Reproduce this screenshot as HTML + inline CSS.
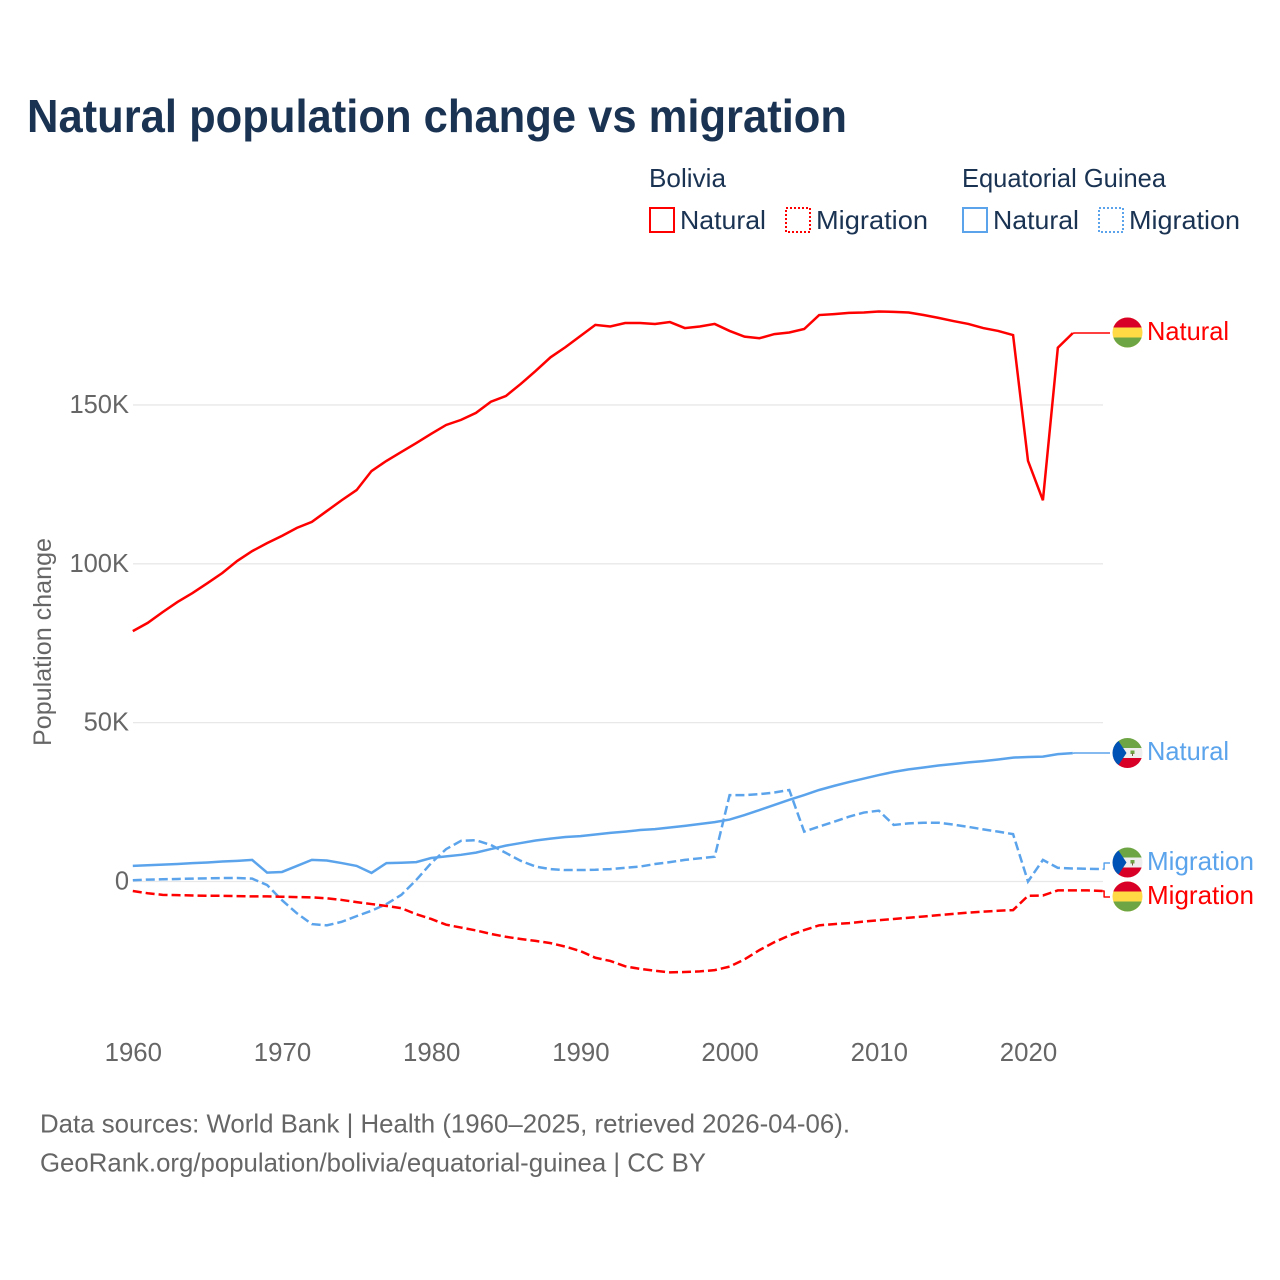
<!DOCTYPE html>
<html lang="en">
<head>
<meta charset="utf-8">
<title>Natural population change vs migration</title>
<style>
html,body{margin:0;padding:0;background:#fff;width:1280px;height:1280px;overflow:hidden}
svg{display:block}
text{font-family:"Liberation Sans",sans-serif}
</style>
</head>
<body>
<svg id="chart" xmlns="http://www.w3.org/2000/svg" width="1280" height="1280" viewBox="0 0 1280 1280">
  <defs>
    <clipPath id="flag-clip"><circle cx="0" cy="0" r="15"/></clipPath>
  </defs>
  <text x="27" y="132" font-size="46" font-weight="700" fill="#1a3353" textLength="820" lengthAdjust="spacingAndGlyphs">Natural population change vs migration</text>

  <g font-size="26" fill="#1a3353">
    <text x="649" y="187" textLength="77" lengthAdjust="spacingAndGlyphs">Bolivia</text>
    <text x="962" y="187" textLength="204" lengthAdjust="spacingAndGlyphs">Equatorial Guinea</text>
    <rect x="650" y="208" width="24" height="24" fill="none" stroke="#ff0000" stroke-width="2"/>
    <text x="680" y="229" textLength="86" lengthAdjust="spacingAndGlyphs">Natural</text>
    <rect x="786" y="208" width="24" height="24" fill="none" stroke="#ff0000" stroke-width="2" stroke-dasharray="2 2"/>
    <text x="816" y="229" textLength="112" lengthAdjust="spacingAndGlyphs">Migration</text>
    <rect x="963" y="208" width="24" height="24" fill="none" stroke="#5ba4ec" stroke-width="2"/>
    <text x="993" y="229" textLength="86" lengthAdjust="spacingAndGlyphs">Natural</text>
    <rect x="1099" y="208" width="24" height="24" fill="none" stroke="#5ba4ec" stroke-width="2" stroke-dasharray="2 2"/>
    <text x="1129" y="229" textLength="111" lengthAdjust="spacingAndGlyphs">Migration</text>
  </g>

  <text transform="translate(51,642) rotate(-90)" text-anchor="middle" font-size="25" fill="#666666" textLength="208" lengthAdjust="spacingAndGlyphs">Population change</text>

  <g id="grid"></g>
  <g id="y-ticks"></g>
  <g id="x-ticks"></g>
  <g id="series"></g>

  <g transform="translate(1127.500,332.500)">
    <g clip-path="url(#flag-clip)">
      <rect x="-15" y="-15" width="30" height="30" fill="#ffda44"/>
      <rect x="-15" y="-15" width="30" height="10" fill="#d80027"/>
      <rect x="-15" y="5" width="30" height="10" fill="#6da544"/>
    </g>
  </g>
  <g transform="translate(1127.500,896.500)">
    <g clip-path="url(#flag-clip)">
      <rect x="-15" y="-15" width="30" height="30" fill="#ffda44"/>
      <rect x="-15" y="-15" width="30" height="10" fill="#d80027"/>
      <rect x="-15" y="5" width="30" height="10" fill="#6da544"/>
    </g>
  </g>
  <g transform="translate(1127.500,753)">
    <g clip-path="url(#flag-clip)">
      <rect x="-15" y="-15" width="30" height="30" fill="#eeeeee"/>
      <rect x="-15" y="-15" width="30" height="10" fill="#6da544"/>
      <rect x="-15" y="5" width="30" height="10" fill="#d80027"/>
      <polygon points="-15,-15 -11,-15 -1,0 -11,15 -15,15" fill="#0052b4"/>
      <rect x="3" y="-2.500" width="4" height="3.500" fill="#6da544"/>
      <rect x="4.500" y="0" width="1" height="3" fill="#786145"/>
    </g>
  </g>
  <g transform="translate(1127.500,862.500)">
    <g clip-path="url(#flag-clip)">
      <rect x="-15" y="-15" width="30" height="30" fill="#eeeeee"/>
      <rect x="-15" y="-15" width="30" height="10" fill="#6da544"/>
      <rect x="-15" y="5" width="30" height="10" fill="#d80027"/>
      <polygon points="-15,-15 -11,-15 -1,0 -11,15 -15,15" fill="#0052b4"/>
      <rect x="3" y="-2.500" width="4" height="3.500" fill="#6da544"/>
      <rect x="4.500" y="0" width="1" height="3" fill="#786145"/>
    </g>
  </g>

  <g font-size="26">
    <text x="1147" y="340" fill="#ff0000" textLength="82" lengthAdjust="spacingAndGlyphs">Natural</text>
    <text x="1147" y="760" fill="#5ba4ec" textLength="82" lengthAdjust="spacingAndGlyphs">Natural</text>
    <text x="1147" y="870" fill="#5ba4ec" textLength="107" lengthAdjust="spacingAndGlyphs">Migration</text>
    <text x="1147" y="904" fill="#ff0000" textLength="107" lengthAdjust="spacingAndGlyphs">Migration</text>
  </g>

  <g font-size="26" fill="#666666">
    <text x="40" y="1132.500" textLength="810" lengthAdjust="spacingAndGlyphs">Data sources: World Bank | Health (1960–2025, retrieved 2026-04-06).</text>
    <text x="40" y="1171.500" textLength="666" lengthAdjust="spacingAndGlyphs">GeoRank.org/population/bolivia/equatorial-guinea | CC BY</text>
  </g>
</svg>
<script>
// Chart data: values in thousands of people, one entry per year from firstYear.
var firstYear = 1960;
var yTickValues = [0, 50, 100, 150];
var yTickLabels = ['0', '50K', '100K', '150K'];
var xTickValues = [1960, 1970, 1980, 1990, 2000, 2010, 2020];
var xTickLabels = ['1960', '1970', '1980', '1990', '2000', '2010', '2020'];

var boliviaNatural = [78.8,81.4,84.8,88,90.8,93.9,97.1,100.9,104,106.5,108.8,111.3,113.2,116.6,120,123.2,129.2,132.4,135.2,138,140.9,143.7,145.3,147.5,151,152.8,156.6,160.7,165,168.2,171.7,175.2,174.7,175.8,175.8,175.5,176.1,174.2,174.7,175.5,173.3,171.5,171,172.3,172.8,173.9,178.3,178.6,179,179.1,179.4,179.3,179.1,178.3,177.4,176.4,175.5,174.2,173.3,172,132.4,120,168,172.6];
var boliviaMigration = [-3,-3.7,-4.2,-4.3,-4.4,-4.5,-4.5,-4.6,-4.7,-4.7,-4.8,-4.9,-5,-5.3,-5.8,-6.5,-7.1,-7.7,-8.4,-10.3,-11.8,-13.6,-14.5,-15.4,-16.5,-17.4,-18.1,-18.7,-19.4,-20.5,-21.9,-24,-25,-26.7,-27.5,-28.1,-28.6,-28.5,-28.3,-27.9,-26.8,-24.5,-21.6,-19.1,-17,-15.3,-13.8,-13.4,-13.1,-12.6,-12.2,-11.8,-11.4,-11,-10.6,-10.2,-9.8,-9.5,-9.2,-9,-4.5,-4.4,-2.8,-2.8,-2.8,-3];
var guineaNatural = [4.9,5.1,5.3,5.5,5.8,6,6.3,6.5,6.8,2.8,3,4.9,6.8,6.6,5.8,4.9,2.7,5.8,5.9,6.1,7.4,7.9,8.4,9.1,10.2,11.3,12.1,12.9,13.5,14,14.3,14.8,15.3,15.7,16.2,16.5,17,17.5,18.1,18.7,19.5,20.9,22.5,24.1,25.7,27.2,28.8,30.1,31.3,32.4,33.5,34.5,35.3,35.9,36.5,37,37.5,37.9,38.4,39,39.2,39.3,40.1,40.4];
var guineaMigration = [0.4,0.6,0.7,0.8,0.9,1,1.1,1.1,0.9,-1.1,-5.9,-10,-13.4,-13.8,-12.7,-10.9,-9.2,-7.1,-4.2,0.5,5.8,10.2,12.8,13,11.5,9,6.5,4.7,3.9,3.6,3.6,3.7,3.9,4.3,4.7,5.5,6.1,6.8,7.3,7.8,27.2,27.2,27.5,28,28.8,15.7,17.3,18.8,20.4,21.7,22.3,17.8,18.3,18.5,18.5,17.9,17.2,16.4,15.7,14.9,0,6.8,4.3,4.1,4,3.9];

var NS = 'http://www.w3.org/2000/svg';
function xScale(year) { return 132.800 + (year - 1960) * 14.92; }
function yScale(value) { return 881.5 - value * 3.177; }

var RED = '#ff0000';
var BLUE = '#5ba4ec';

function buildLine(values) {
  var d = '';
  for (var i = 0; i < values.length; i++) {
    d += (i ? 'L' : 'M') + xScale(firstYear + i).toFixed(2) + ' ' + yScale(values[i]).toFixed(2);
  }
  return d;
}

var gridGroup = document.getElementById('grid');
var yTickGroup = document.getElementById('y-ticks');
var xTickGroup = document.getElementById('x-ticks');
var seriesGroup = document.getElementById('series');

yTickValues.forEach(function (v, i) {
  var line = document.createElementNS(NS, 'line');
  
  
  line.setAttribute('x1', 133);
  line.setAttribute('x2', 1103);
  line.setAttribute('y1', yScale(v));
  line.setAttribute('y2', yScale(v));
  line.setAttribute('stroke', '#e8e8e8');
  line.setAttribute('stroke-width', '1.3');
  gridGroup.appendChild(line);

  var label = document.createElementNS(NS, 'text');
  
  
  label.setAttribute('x', 129);
  label.setAttribute('y', yScale(v) + 8);
  label.setAttribute('text-anchor', 'end');
  label.setAttribute('font-size', '25.500');
  label.setAttribute('fill', '#666666');
  label.textContent = yTickLabels[i];
  yTickGroup.appendChild(label);
});

xTickValues.forEach(function (year, i) {
  var label = document.createElementNS(NS, 'text');
  
  
  label.setAttribute('x', xScale(year) + 0.500);
  label.setAttribute('y', 1061);
  label.setAttribute('text-anchor', 'middle');
  label.setAttribute('font-size', '25.800');
  label.setAttribute('fill', '#666666');
  label.textContent = xTickLabels[i];
  xTickGroup.appendChild(label);
});

function drawSeries(name, values, color, dashed) {
  var path = document.createElementNS(NS, 'path');
  
  
  path.setAttribute('d', buildLine(values));
  path.setAttribute('fill', 'none');
  path.setAttribute('stroke', color);
  path.setAttribute('stroke-width', '2.500');
  path.setAttribute('stroke-linejoin', 'miter');
  if (dashed) { path.setAttribute('stroke-dasharray', '9 4'); }
  seriesGroup.appendChild(path);
}

function drawConnector(name, values, color, labelY) {
  var last = values.length - 1;
  var startX = xScale(firstYear + last);
  var startY = yScale(values[last]);
  var midX = startX + 1.500;
  var path = document.createElementNS(NS, 'path');
  
  
  path.setAttribute('d', 'M' + startX + ' ' + startY + 'L' + midX + ' ' + startY + 'L' + midX + ' ' + labelY + 'L1110 ' + labelY);
  path.setAttribute('fill', 'none');
  path.setAttribute('stroke', color);
  path.setAttribute('stroke-width', '1.500');
  path.setAttribute('stroke-linejoin', 'round');
  seriesGroup.appendChild(path);
}

drawSeries('line-equatorial-guinea-migration', guineaMigration, BLUE, true);
drawSeries('line-equatorial-guinea-natural', guineaNatural, BLUE, false);
drawSeries('line-bolivia-migration', boliviaMigration, RED, true);
drawSeries('line-bolivia-natural', boliviaNatural, RED, false);

drawConnector('connector-bolivia-natural', boliviaNatural, RED, 333);
drawConnector('connector-equatorial-guinea-natural', guineaNatural, BLUE, 753);
drawConnector('connector-equatorial-guinea-migration', guineaMigration, BLUE, 863);
drawConnector('connector-bolivia-migration', boliviaMigration, RED, 897);
</script>
</body>
</html>
